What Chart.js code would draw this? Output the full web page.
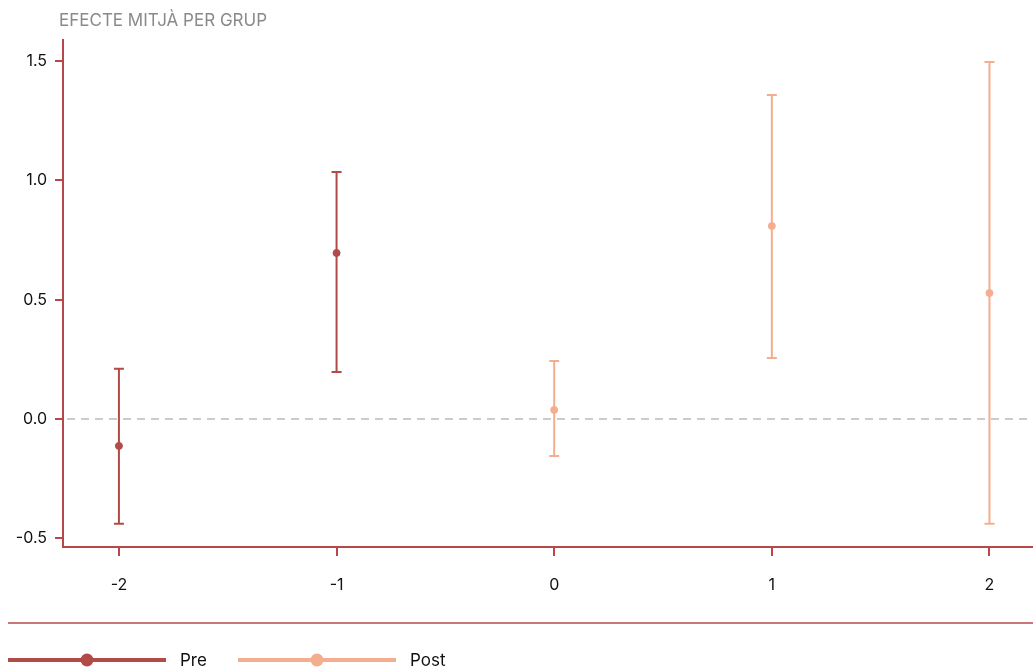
<!DOCTYPE html>
<html>
<head>
<meta charset="utf-8">
<script src="https://cdn.jsdelivr.net/npm/chart.js@4.4.1/dist/chart.umd.min.js"></script>
<style>
  html, body { margin: 0; padding: 0; background: #fff; }
  #wrap { width: 1033px; height: 668px; position: relative; }
</style>
</head>
<body>
<div id="wrap"><canvas id="chart" width="1033" height="668"></canvas></div>
<script>
// Group offsets and estimated effects with their confidence bounds
const groups = [-2, -1, 0, 1, 2];
const periods = ["Pre", "Pre", "Post", "Post", "Post"];
const estimates = [-0.113, 0.696, 0.038, 0.809, 0.528];
const lowerBounds = [-0.44, 0.197, -0.155, 0.256, -0.44];
const upperBounds = [0.21, 1.036, 0.243, 1.358, 1.497];
const yTicks = [-0.5, 0.0, 0.5, 1.0, 1.5];
const legendNames = ["Pre", "Post"];

const RED = "#b24a48";
const SALMON = "#f5ad8f";
const AXIS = "#b8474b";
const FONT = "Inter, 'Liberation Sans', sans-serif";

const colorFor = (p) => (p === "Pre" ? RED : SALMON);

function pointsFor(period) {
  return groups
    .map((g, i) => ({ x: g, y: estimates[i], lo: lowerBounds[i], hi: upperBounds[i], p: periods[i] }))
    .filter((d) => d.p === period);
}

// Error bars, zero reference line, title and bottom legend
const extras = {
  id: "extras",
  beforeDatasetsDraw(chart) {
    const { ctx, chartArea, scales } = chart;
    const y0 = scales.y.getPixelForValue(0);
    ctx.save();
    ctx.strokeStyle = "#cccccc";
    ctx.lineWidth = 2;
    ctx.setLineDash([8, 6]);
    ctx.beginPath();
    ctx.moveTo(chartArea.left + 4, y0);
    ctx.lineTo(chartArea.right, y0);
    ctx.stroke();
    ctx.setLineDash([]);

    groups.forEach((g, i) => {
      const x = scales.x.getPixelForValue(g);
      const top = scales.y.getPixelForValue(upperBounds[i]);
      const bot = scales.y.getPixelForValue(lowerBounds[i]);
      ctx.strokeStyle = colorFor(periods[i]);
      ctx.lineWidth = 2;
      ctx.beginPath();
      ctx.moveTo(x, top);
      ctx.lineTo(x, bot);
      ctx.moveTo(x - 5, top);
      ctx.lineTo(x + 5, top);
      ctx.moveTo(x - 5, bot);
      ctx.lineTo(x + 5, bot);
      ctx.stroke();
    });
    ctx.restore();
  },
  afterDraw(chart) {
    const { ctx } = chart;
    ctx.save();
    ctx.fillStyle = "#8a8a8a";
    ctx.font = "17px " + FONT;
    ctx.textBaseline = "middle";
    ctx.textAlign = "left";
    ctx.fillText("EFECTE MITJÀ PER GRUP", 59, 21);

    ctx.strokeStyle = AXIS;
    ctx.lineWidth = 1.5;
    ctx.beginPath();
    ctx.moveTo(8, 623);
    ctx.lineTo(1033, 623);
    ctx.stroke();

    const starts = [8, 238];
    legendNames.forEach((name, i) => {
      const c = colorFor(name);
      const x0 = starts[i];
      ctx.strokeStyle = c;
      ctx.lineWidth = 4;
      ctx.beginPath();
      ctx.moveTo(x0, 660);
      ctx.lineTo(x0 + 158, 660);
      ctx.stroke();
      ctx.fillStyle = c;
      ctx.beginPath();
      ctx.arc(x0 + 79, 660, 6.5, 0, Math.PI * 2);
      ctx.fill();
      ctx.fillStyle = "#111";
      ctx.font = "17px " + FONT;
      ctx.fillText(name, x0 + 172, 661);
    });
    ctx.restore();
  },
};

const chart = new Chart(document.getElementById("chart"), {
  type: "scatter",
  data: {
    datasets: legendNames.map((name) => ({
      label: name,
      data: pointsFor(name),
      backgroundColor: colorFor(name),
      borderColor: colorFor(name),
      pointRadius: 3.5,
      pointHoverRadius: 3.5,
    })),
  },
  options: {
    responsive: false,
    animation: false,
    layout: { autoPadding: false, padding: { top: 40, right: 0, left: 0, bottom: 0 } },
    plugins: { legend: { display: false }, tooltip: { enabled: false } },
    scales: {
      x: {
        type: "linear",
        min: -2.257,
        max: 2.2,
        afterBuildTicks: (axis) => { axis.ticks = groups.map((v) => ({ value: v })); },
        afterFit: (axis) => { axis.height = 121; },
        grid: { drawOnChartArea: false, drawTicks: true, tickLength: 9, color: AXIS, lineWidth: 2 },
        border: { color: AXIS, width: 2 },
        ticks: {
          color: "#111",
          padding: 20,
          font: { family: FONT, size: 16 },
          callback: (v) => String(v),
        },
      },
      y: {
        min: -0.537,
        max: 1.589,
        afterBuildTicks: (axis) => { axis.ticks = yTicks.map((v) => ({ value: v })); },
        afterFit: (axis) => { axis.width = 63; },
        grid: { drawOnChartArea: false, drawTicks: true, tickLength: 8, color: AXIS, lineWidth: 2 },
        border: { color: AXIS, width: 2 },
        ticks: {
          color: "#111",
          padding: 8,
          font: { family: FONT, size: 16 },
          callback: (v) => Number(v).toFixed(1),
        },
      },
    },
  },
  plugins: [extras],
});
</script>
</body>
</html>
